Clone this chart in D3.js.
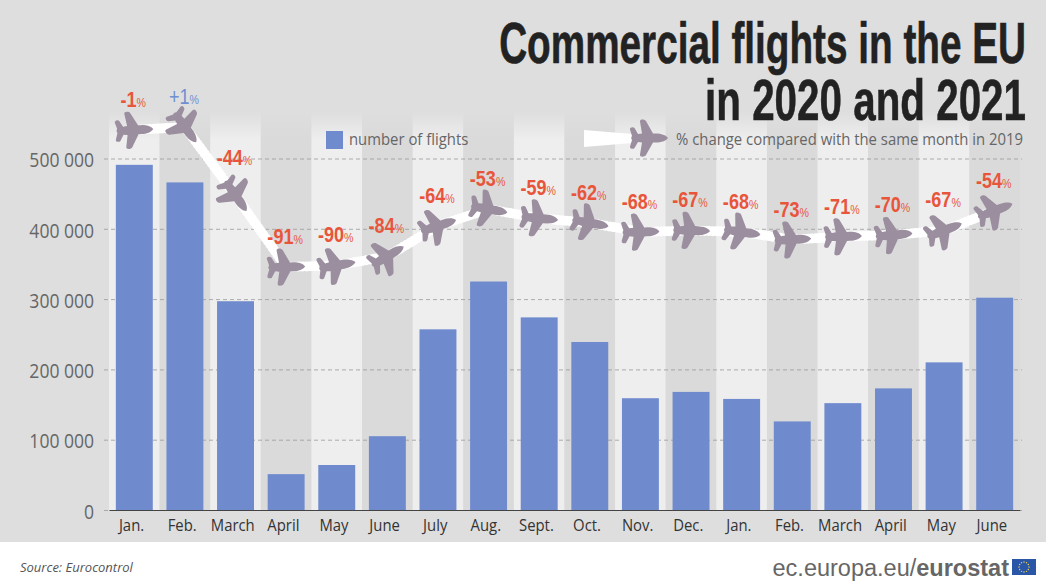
<!DOCTYPE html>
<html>
<head>
<meta charset="utf-8">
<script src="https://cdn.jsdelivr.net/npm/d3@7"></script>
<style>
  html, body { margin: 0; padding: 0; background: #fff; }
  svg { display: block; }
  text { font-family: "Open Sans", sans-serif; }
  .narrow { font-family: "Liberation Sans", sans-serif; }
</style>
</head>
<body>
<div id="chart"></div>
<script>
// data
const months = ['Jan.', 'Feb.', 'March', 'April', 'May', 'June', 'July', 'Aug.', 'Sept.', 'Oct.', 'Nov.', 'Dec.', 'Jan.', 'Feb.', 'March', 'April', 'May', 'June'];
const flights = [491000, 466000, 297000, 51000, 64000, 105000, 257000, 325000, 274000, 239000, 159000, 168000, 158000, 126000, 152000, 173000, 210000, 302000];
const changes = [-1, 1, -44, -91, -90, -84, -64, -53, -59, -62, -68, -67, -68, -73, -71, -70, -67, -54];
const yTicks = [0, 100000, 200000, 300000, 400000, 500000];
const titleLines = ['Commercial flights in the EU', 'in 2020 and 2021'];
const legendBars = 'number of flights';
const legendPlanes = '% change compared with the same month in 2019';
const source = 'Source: Eurocontrol';

const width = 1046;
const height = 581;
const baseline = 510;
const blue = '#6f8bcd';
const red = '#e8553a';
const planeColor = '#9b8e9f';

// plane pointing right, centred on 0,0
const planeShape = 'M19,0 C17,-3 12,-4.5 7,-4.5 L4,-4.5 L-3,-17 C-4,-19 -9.5,-19.5 -9,-16.5 L-7,-4.5 L-11,-4 L-14.5,-10 C-15.5,-11.5 -19.5,-11 -19,-8.5 L-17,-2 C-18,-0.5 -18,0.5 -17,2 L-19,8.5 C-19.5,11 -15.5,11.5 -14.5,10 L-11,4 L-7,4.5 L-9,16.5 C-9.5,19.5 -4,19 -3,17 L4,4.5 L7,4.5 C12,4.5 17,3 19,0 Z';

const svg = d3.select('#chart').append('svg')
  .attr('width', width)
  .attr('height', height);

// scales
const x = d3.scaleBand().domain(d3.range(months.length)).range([109, 1020]).paddingInner(0.27).paddingOuter(0.135);
const y = d3.scaleLinear().domain([0, 500000]).range([baseline, 158.5]);
const yChange = d3.scaleLinear().domain([1, -91]).range([127, 267]);
const cx = i => x(i) + x.bandwidth() / 2;

// background
svg.append('rect').attr('width', width).attr('height', 542).attr('fill', '#dedede');

const defs = svg.append('defs');
[['fadeLight', '#eeeeee'], ['fadeDark', '#dadada']].forEach(([id, col]) => {
  const g = defs.append('linearGradient').attr('id', id).attr('x1', 0).attr('x2', 0).attr('y1', 0).attr('y2', 1);
  g.append('stop').attr('offset', 0).attr('stop-color', col).attr('stop-opacity', 0);
  g.append('stop').attr('offset', 0.07).attr('stop-color', col).attr('stop-opacity', 1);
});

// stripes behind each month
svg.selectAll('.stripe')
  .data(months)
  .enter()
  .append('rect')
  .attr('class', 'stripe')
  .attr('x', (d, i) => cx(i) - x.step() / 2)
  .attr('y', 112)
  .attr('width', x.step())
  .attr('height', baseline - 112)
  .attr('fill', (d, i) => i % 2 ? 'url(#fadeDark)' : 'url(#fadeLight)');

// y axis with gridlines
const yAxis = d3.axisLeft(y)
  .tickValues(yTicks)
  .tickSize(-918)
  .tickFormat(d => d3.format(',')(d).replace(/,/g, ' '));
const yG = svg.append('g').attr('transform', 'translate(104,0)').call(yAxis);
yG.select('.domain').remove();
yG.selectAll('line').attr('stroke', '#9a9a9a').attr('stroke-width', 0.8).attr('stroke-dasharray', '4 3');
yG.selectAll('text')
  .attr('font-size', 19.5)
  .attr('fill', '#666')
  .attr('x', -11)
  .attr('y', 2)
  .attr('transform', 'scale(0.9,1)');

// bars
svg.selectAll('.bar')
  .data(flights)
  .enter()
  .append('rect')
  .attr('class', 'bar')
  .attr('x', (d, i) => x(i))
  .attr('y', d => y(d))
  .attr('width', x.bandwidth())
  .attr('height', d => baseline - y(d))
  .attr('fill', blue);

// x axis
const xAxis = d3.axisBottom(x).tickSize(0).tickPadding(10).tickFormat(i => months[i]);
const xG = svg.append('g').attr('transform', `translate(0,${baseline})`).call(xAxis);
xG.select('.domain').attr('stroke', '#444').attr('stroke-width', 1.2);
xG.selectAll('text')
  .attr('font-size', 16)
  .attr('fill', '#333')
  .attr('x', -3)
  .attr('transform', 'scale(0.93,1)');

// white trail behind the planes
const trail = d3.line().x((d, i) => cx(i)).y(d => yChange(d));
svg.append('path').datum(changes).attr('d', trail).attr('fill', 'none').attr('stroke', '#fff').attr('stroke-width', 8).attr('stroke-linejoin', 'round');
svg.append('path').datum(changes).attr('d', trail).attr('fill', 'none').attr('stroke', '#fff').attr('stroke-width', 10)
  .attr('stroke-linecap', 'round').attr('stroke-dasharray', '0 4');

// each plane heads for the next point, the last one keeps its heading
const heading = i => {
  const a = i < changes.length - 1 ? i : i - 1;
  return Math.atan2(yChange(changes[a + 1]) - yChange(changes[a]), cx(a + 1) - cx(a)) * 180 / Math.PI;
};

svg.selectAll('.plane')
  .data(changes)
  .enter()
  .append('path')
  .attr('class', 'plane')
  .attr('d', planeShape)
  .attr('fill', planeColor)
  .attr('transform', (d, i) => `translate(${cx(i)},${yChange(d)}) rotate(${heading(i)})`);

// change labels, squeezed to a condensed look
const labels = svg.selectAll('.change')
  .data(changes)
  .enter()
  .append('text')
  .attr('class', 'change narrow')
  .attr('transform', (d, i) => `translate(${cx(i) - 1},${yChange(d) - (i === 2 ? 30 : 23)}) scale(0.82,1)`)
  .attr('text-anchor', 'middle')
  .attr('fill', d => d > 0 ? '#6f8fd0' : red);
labels.append('tspan')
  .attr('font-size', 22)
  .attr('font-weight', d => d > 0 ? 400 : 700)
  .text(d => (d > 0 ? '+' : '') + d);
labels.append('tspan')
  .attr('font-size', 13)
  .text('%');

// legend
svg.append('rect').attr('x', 326).attr('y', 131).attr('width', 17).attr('height', 18).attr('fill', blue);
svg.append('text').attr('transform', 'translate(349,145) scale(0.93,1)').attr('font-size', 16).attr('fill', '#666').text(legendBars);
svg.append('path').attr('d', 'M584,130 L632,134 L632,143 L584,147 Z').attr('fill', '#fff');
svg.append('path').attr('d', planeShape).attr('fill', planeColor).attr('transform', 'translate(649,138)');
svg.append('text').attr('transform', 'translate(1023,145) scale(0.93,1)').attr('text-anchor', 'end').attr('font-size', 16).attr('fill', '#666').text(legendPlanes);

// title, squeezed to the width each line has in the picture
svg.selectAll('.title')
  .data(titleLines)
  .enter()
  .append('text')
  .attr('class', 'title narrow')
  .attr('text-anchor', 'end')
  .attr('font-size', 58)
  .attr('font-weight', 700)
  .attr('fill', '#222')
  .attr('stroke', '#222')
  .attr('stroke-width', 0.6)
  .text(d => d)
  .attr('transform', function(d, i) {
    const squeeze = (i ? 321 : 527) / this.getComputedTextLength();
    return `translate(1026,${63 + i * 57}) scale(${squeeze},1)`;
  });

// footer
svg.append('text').attr('x', 20).attr('y', 572).attr('font-size', 13).attr('font-style', 'italic').attr('fill', '#555').text(source);
const foot = svg.append('text').attr('x', 1009).attr('y', 576).attr('text-anchor', 'end')
  .attr('font-size', 23.5).style('font-family', '"Liberation Sans", sans-serif').attr('fill', '#666');
foot.append('tspan').text('ec.europa.eu/');
foot.append('tspan').attr('font-weight', 700).text('eurostat');

// EU flag
svg.append('rect').attr('x', 1012).attr('y', 559).attr('width', 24).attr('height', 16).attr('fill', '#2a56a8');
svg.selectAll('.star')
  .data(d3.range(12))
  .enter()
  .append('circle')
  .attr('class', 'star')
  .attr('cx', d => 1024 + 5 * Math.cos(d * Math.PI / 6))
  .attr('cy', d => 567 + 5 * Math.sin(d * Math.PI / 6))
  .attr('r', 0.7)
  .attr('fill', '#f2d94e');
</script>
</body>
</html>
